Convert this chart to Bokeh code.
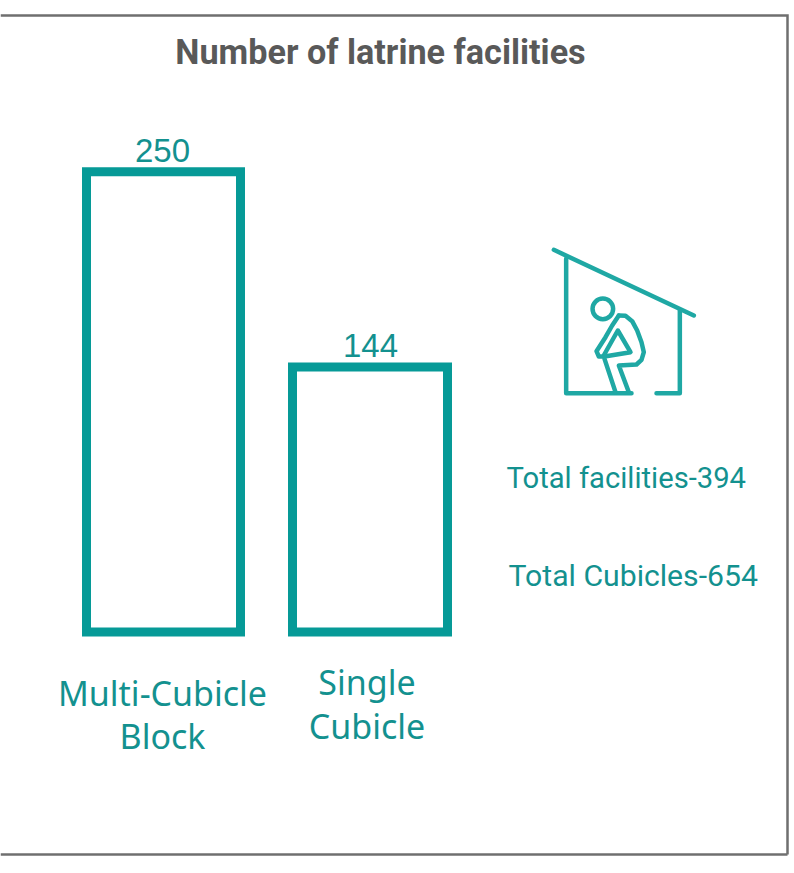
from bokeh.plotting import figure
from bokeh.models import Range1d
from bokeh.embed import file_html
from bokeh.resources import INLINE
from bokeh.core.properties import value

title_text = "Number of latrine facilities"
categories = ["Multi-Cubicle Block", "Single Cubicle"]
counts = [250, 144]
count_labels = ["250", "144"]
cat_lines = [["Multi-Cubicle", "Block"], ["Single", "Cubicle"]]
totals = ["Total facilities-394", "Total Cubicles-654"]

BAR = "#069a97"; TXT = "#13918f"; ICON = "#1fa8a4"; GREY = "#6f6f6f"; TITLE = "#595959"
W, H = 794, 873
Y0, PX = 631.5, 1.841
p = figure(width=W, height=H, x_range=Range1d(0, W),
           y_range=Range1d((Y0 - H) / PX, Y0 / PX),
           output_backend="svg", toolbar_location=None, min_border=0,
           outline_line_color=None, margin=(0, 0, 0, 0))
p.extra_y_ranges = {"px": Range1d(H, 0)}
p.xaxis.visible = False; p.yaxis.visible = False
p.xgrid.visible = False; p.ygrid.visible = False

lefts = [86, 292]; rights = [240, 447]
p.quad(left=lefts, right=rights, bottom=[0, 0], top=counts, fill_color=None,
       line_color=BAR, line_width=9, line_join="miter")

def txt(x, y, s, size, font, color, align="left", style="normal"):
    p.text(x=[x], y=[y], text=[s], y_range_name="px", text_font=value(font),
           text_font_size=f"{size}px", text_color=color, text_align=align,
           text_baseline="alphabetic", text_font_style=style, y_offset=-0.35 * size)

SANS = "Roboto"
txt(380, 63, title_text, 34.2, SANS, TITLE, "center", "bold")
txt(162, 162, count_labels[0], 33, "Liberation Sans", TXT, "center")
txt(370, 357, count_labels[1], 33, "Liberation Sans", TXT, "center")
txt(506, 488, totals[0], 29.2, SANS, TXT)
txt(508, 586, totals[1], 30.2, SANS, TXT)
txt(162, 704, cat_lines[0][0], 34, "Noto Sans", TXT, "center")
txt(162, 747, cat_lines[0][1], 34, "Noto Sans", TXT, "center")
txt(366.5, 693, cat_lines[1][0], 34, "Noto Sans", TXT, "center")
txt(366.5, 737.5, cat_lines[1][1], 34, "Noto Sans", TXT, "center")

p.line([0, 787, 787], [15, 15, 854], y_range_name="px", line_color=GREY, line_width=2.5, line_join="miter")
p.line([0, 787], [854, 854], y_range_name="px", line_color=GREY, line_width=2.5)

def icon_path(pts):
    return [530 + a / 3 for a, b in pts], [230 + b / 3 for a, b in pts]

paths = [
    [(70, 58), (490, 255)],
    [(107, 85), (107, 488), (303, 488)],
    [(378, 488), (448, 488), (448, 240)],
    [(265, 255), (245, 285), (225, 320), (198, 362), (205, 378), (218, 378), (262, 300), (300, 365), (222, 378)],
    [(265, 255), (285, 256), (305, 272), (320, 300), (333, 335), (340, 365), (333, 388), (318, 402), (265, 405), (295, 485)],
    [(222, 385), (255, 485)],
]
xs, ys = zip(*[icon_path(q) for q in paths])
p.multi_line(list(xs), list(ys), y_range_name="px", line_color=ICON, line_width=4.5,
             line_cap="round", line_join="round")
hx, hy = icon_path([(217, 235)])
p.circle(x=hx, y=hy, radius=10.3, radius_units="screen", y_range_name="px",
         fill_color=None, line_color=ICON, line_width=4.5)

open("out.html", "w").write(file_html(p, INLINE))
